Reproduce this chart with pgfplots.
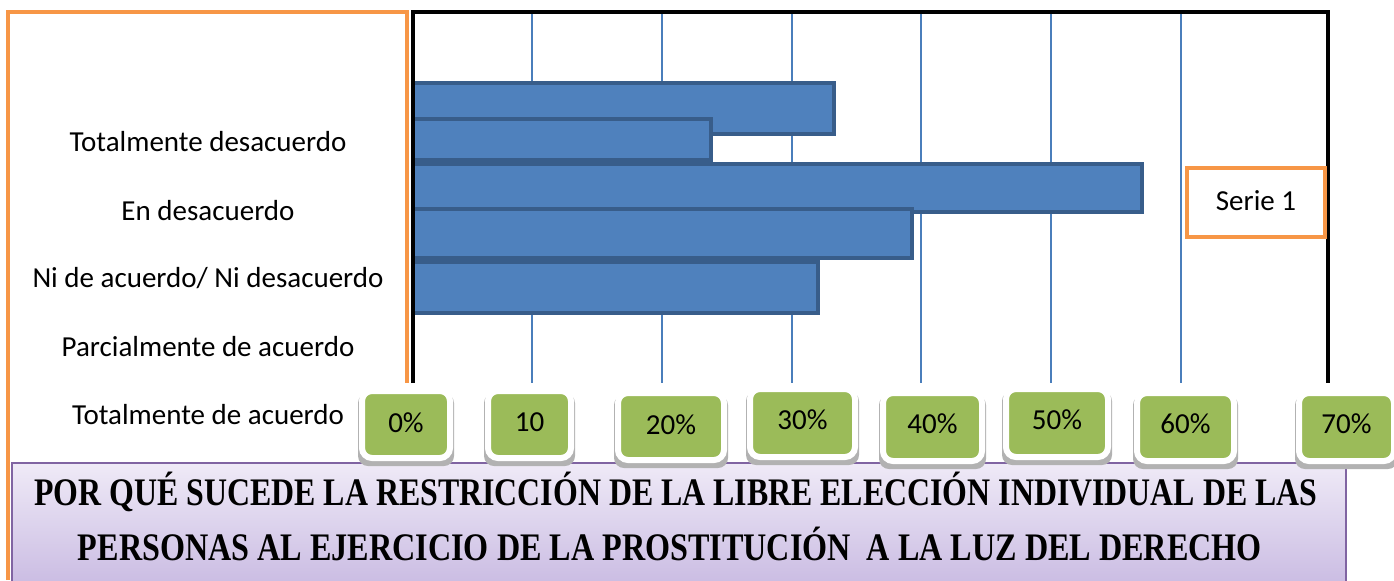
\documentclass[border=0pt]{standalone}
\usepackage{pgfplots}
\pgfplotsset{compat=1.18}
\usepackage{graphicx}
\usepackage{fontspec}
\setmainfont{Carlito}
\newfontfamily\timesb{Liberation Serif}

\definecolor{barfill}{HTML}{4F81BD}
\definecolor{barline}{HTML}{385D8A}
\definecolor{gridblue}{HTML}{4A7EBB}
\definecolor{orangeline}{HTML}{F79646}
\definecolor{greenbox}{HTML}{9BBB59}
\definecolor{purpleline}{HTML}{8064A2}
\definecolor{purpletop}{HTML}{EFEAF7}
\definecolor{purplebot}{HTML}{CBBDE3}

\begin{document}
\begin{tikzpicture}
\useasboundingbox (0,0) rectangle (697pt,-290pt);

\begin{axis}[
  at={(206.5pt,-6pt)}, anchor=north west,
  width=457.5pt, height=185.5pt, scale only axis,
  xmin=0.85, xmax=71.3,
  ymin=12, ymax=383, y dir=reverse,
  axis line style={draw=none},
  xtick={10,20,30,40,50,60}, xticklabels={},
  ytick=\empty,
  major tick length=0pt,
  xmajorgrids,
  major grid style={draw=gridblue, line width=1pt},
  every axis plot/.append style={xbar, bar shift=0pt, fill=barfill, draw=barline, line width=2pt},
]
% one bar per series, drawn top to bottom so each overlaps the previous one
\addplot[bar width=51] coordinates {(33.3,108.5)};
\addplot[bar width=41] coordinates {(23.8,139.5)};
\addplot[bar width=48] coordinates {(57.0,188)};
\addplot[bar width=49] coordinates {(39.3,233.5)};
\addplot[bar width=51] coordinates {(32.0,287.5)};
\end{axis}

\begin{scope}[x=0.5pt, y=-0.5pt]
  % black frame (no bottom edge)
  \draw[black, line width=2pt] (413,383) -- (413,12) -- (1328,12) -- (1328,383);
  % orange label box
  \draw[orangeline, line width=2pt] (8,580) -- (8,12) -- (407,12) -- (407,383);

  % category labels
  \begin{scope}[every node/.style={anchor=base, font=\fontsize{14.5}{16}\selectfont, inner sep=0pt}]
    \node at (208,151) {Totalmente desacuerdo};
    \node at (208,220) {En desacuerdo};
    \node at (208,287) {Ni de acuerdo/ Ni desacuerdo};
    \node at (208,356) {Parcialmente de acuerdo};
    \node at (208,424) {Totalmente de acuerdo};
  \end{scope}

  % legend box
  \draw[orangeline, line width=2pt, fill=white] (1187,168) rectangle (1325,237);
  \node[anchor=base, font=\fontsize{14.5}{16}\selectfont, inner sep=0pt] at (1256,210) {Serie 1};

  % title box
  \shade[top color=purpletop, bottom color=purplebot] (12,463) rectangle (1346,582);
  \draw[purpleline, line width=1pt] (12,582) -- (12,463) -- (1346,463) -- (1346,582);
  \node[anchor=base, inner sep=0pt] at (676,505)
    {\resizebox{641.5pt}{\height}{\timesb\bfseries\fontsize{19.5}{19.5}\selectfont POR QUÉ SUCEDE LA RESTRICCIÓN DE LA LIBRE ELECCIÓN INDIVIDUAL DE LAS}};
  \node[anchor=base, inner sep=0pt] at (670,560)
    {\resizebox{592pt}{\height}{\timesb\bfseries\fontsize{19.5}{19.5}\selectfont PERSONAS AL EJERCICIO DE LA PROSTITUCIÓN\ \ A LA LUZ DEL DERECHO}};

  % green tick label boxes: left, right, top, bottom, label, baseline
  \foreach \l/\r/\t/\b/\txt/\bl in {
      362/450/391/458/0\%/432,
      488/571/391/458/10/431,
      618/724/393/460/20\%/434,
      750/855/389/457/30\%/429,
      883/982/393/461/40\%/433,
      1006/1108/389/457/50\%/429,
      1137/1234/393/461/60\%/433,
      1299/1394/393/461/70\%/433} {
    \fill[black!30, rounded corners=5pt] (\l-4,\t+2) rectangle (\r+4,\b+8);
    \draw[white, line width=3pt, fill=greenbox, rounded corners=5pt] (\l,\t) rectangle (\r,\b);
    \node[anchor=base, font=\fontsize{14.5}{16}\selectfont, inner sep=0pt] at ({(\l+\r)/2},\bl) {\txt};
  }
\end{scope}
\end{tikzpicture}
\end{document}
